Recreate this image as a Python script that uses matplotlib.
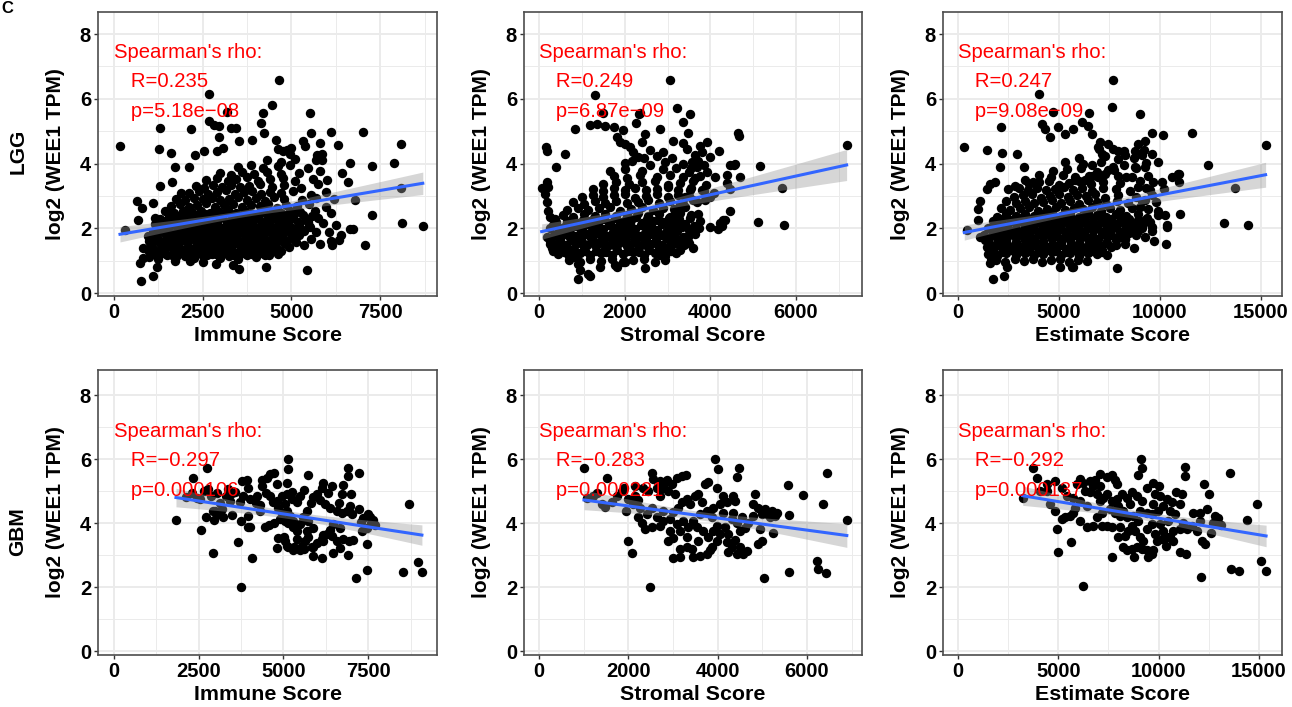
import numpy as np
import matplotlib
matplotlib.use("Agg")
import matplotlib.pyplot as plt

plt.rcParams['font.family'] = ['Liberation Sans', 'DejaVu Sans']

# ---------------- data ----------------
y_ticks = [0, 2, 4, 6, 8]
immune_ticks = [0, 2500, 5000, 7500]
stromal_ticks = [0, 2000, 4000, 6000]
estimate_ticks = [0, 5000, 10000, 15000]
score_names = ['Immune Score', 'Stromal Score', 'Estimate Score']
cancer_names = ['LGG', 'GBM']
lgg_r = ['0.235', '0.249', '0.247']
lgg_p = ['5.18e\u221208', '6.87e\u221209', '9.08e\u221209']
gbm_r = ['\u22120.297', '\u22120.283', '\u22120.292']
gbm_p = ['0.000106', '0.000221', '0.000137']

lgg_immune = [
 (170,4.53),(310,1.95),(640,2.83),(690,2.27),(780,2.63),(770,0.38),(735,0.93),(810,1.08),(830,1.39),(970,1.75),(990,1.62),
 (1110,0.52),(1210,0.80),(1260,4.45),(1300,5.10),(1600,4.32),(1715,3.90),(2120,3.90),(2170,5.07),(2290,4.27),(2690,6.15),
 (2690,5.31),(2810,5.20),(2950,5.17),(2970,4.82),(2550,4.38),(2900,4.38),(3060,4.48),(3190,5.59),(3300,5.10),(3440,5.10),
 (3510,4.69),(3880,4.72),(4200,5.57),(4450,5.80),(4640,6.59),(4150,5.26),(4240,4.95),(4570,4.74),(4620,4.45),(4750,4.40),
 (4880,4.42),(5000,4.48),(4960,4.30),(5520,5.57),(5550,4.93),(5330,4.69),(5380,4.55),(5800,4.62),(5850,4.30),(5720,4.25),
 (5680,4.10),(5850,4.10),(6110,4.97),(6300,4.58),(6650,4.01),(6410,3.72),(6600,3.44),(7015,4.97),(7260,3.93),(7260,2.40),
 (7070,1.49),(6790,2.86),(6650,1.98),(6740,1.98),(6400,1.80),(6350,1.65),(6150,1.50),(6100,1.60),(7900,4.01),(8090,4.60),
 (8090,3.23),(8110,2.16),(8700,2.08),(5450,0.70),(4290,0.80),(3510,0.73),(3350,0.88),(2500,0.95),(2150,1.00),(1715,0.99),
 (2870,0.91),(1300,3.30),(1630,3.42),(1110,2.78),(1160,2.32),(1900,3.10),
 (1000,1.12),(1250,1.05),(1500,1.18),(1750,1.10),(2000,1.16),(2250,1.07),(2500,1.14),(2750,1.20),(3000,1.09),(3250,1.15),
 (3500,1.04),(3750,1.17),(4000,1.11),(4250,1.19),
 (950,1.32),(1200,1.27),(1450,1.35),(1700,1.29),(1950,1.34),(2200,1.26),(2450,1.31),(2700,1.37),(2950,1.28),(3200,1.33),
 (3450,1.25),(3700,1.36),(3950,1.30),(4200,1.27),(4450,1.34),(4700,1.29),
 (1050,1.48),(1300,1.54),(1550,1.46),(1800,1.52),(2050,1.57),(2300,1.45),(2550,1.51),(2800,1.55),(3050,1.47),(3300,1.53),
 (3550,1.49),(3800,1.56),(4050,1.44),(4300,1.52),(4550,1.48),(4800,1.55),(5350,1.47),(5800,1.53),
 (1000,1.72),(1250,1.66),(1500,1.74),(1750,1.69),(2000,1.75),(2250,1.67),(2500,1.71),(2750,1.77),(3000,1.68),(3250,1.73),
 (3500,1.65),(3750,1.76),(4000,1.70),(4250,1.66),(4500,1.74),(4750,1.69),(5050,1.72),(5550,1.67),
 (1100,1.88),(1350,1.94),(1600,1.86),(1850,1.92),(2100,1.97),(2350,1.85),(2600,1.91),(2850,1.95),(3100,1.87),(3350,1.93),
 (3600,1.89),(3850,1.96),(4100,1.84),(4350,1.92),(4600,1.88),(4850,1.95),(5100,1.87),(5350,1.93),(5700,1.90),(6060,1.90),
 (1150,2.12),(1400,2.06),(1650,2.14),(1900,2.09),(2150,2.15),(2400,2.07),(2650,2.11),(2900,2.17),(3150,2.08),(3400,2.13),
 (3650,2.05),(3900,2.16),(4150,2.10),(4400,2.06),(4650,2.14),(4900,2.09),(5200,2.12),(5500,2.07),(5900,2.15),(6260,2.10),
 (1300,2.28),(1550,2.34),(1800,2.26),(2050,2.32),(2300,2.37),(2550,2.25),(2800,2.31),(3050,2.35),(3300,2.27),(3550,2.33),
 (3800,2.29),(4050,2.36),(4300,2.24),(4550,2.32),(4800,2.28),(5050,2.35),(5400,2.27),(5760,2.33),
 (1450,2.52),(1700,2.46),(1950,2.54),(2200,2.49),(2450,2.55),(2700,2.47),(2950,2.51),(3200,2.57),(3450,2.48),(3700,2.53),
 (3950,2.45),(4200,2.56),(4450,2.50),(4700,2.46),(4950,2.54),(5250,2.49),(5650,2.52),(6110,2.47),
 (1600,2.68),(1850,2.74),(2100,2.66),(2350,2.72),(2600,2.77),(2850,2.65),(3100,2.71),(3350,2.75),(3600,2.67),(3850,2.73),
 (4100,2.69),(4350,2.76),(4600,2.64),(4850,2.72),(5150,2.68),(5500,2.75),(5960,2.67),
 (1750,2.92),(2000,2.86),(2250,2.94),(2500,2.89),(2750,2.95),(3000,2.87),(3250,2.91),(3500,2.97),(3750,2.88),(4000,2.93),
 (4250,2.85),(4500,2.96),(4800,2.90),(5300,2.86),(5700,2.94),(6210,2.89),
 (2100,3.08),(2400,3.14),(2650,3.06),(2900,3.12),(3150,3.17),(3400,3.05),(3650,3.11),(3900,3.15),(4150,3.07),(4400,3.13),
 (4700,3.09),(5050,3.16),(5560,3.04),(5960,3.12),
 (2300,3.32),(2550,3.26),(2800,3.34),(3050,3.29),(3300,3.35),(3550,3.27),(3800,3.31),(4100,3.37),(4450,3.28),(4800,3.33),
 (5260,3.25),(5760,3.36),
 (2600,3.48),(2900,3.54),(3200,3.46),(3450,3.52),(3750,3.57),(4050,3.45),(4400,3.51),(4750,3.55),(5100,3.47),(5610,3.53),
 (6010,3.49),
 (3000,3.72),(3300,3.66),(3600,3.74),(3950,3.69),(4300,3.75),(4700,3.67),(5210,3.71),(5810,3.77),
 (3500,3.88),(3860,3.94),(4210,3.86),(4610,3.92),(4960,3.97),(5460,3.85),
 (4310,4.12),(4710,4.06),(5110,4.14),
 (1125,1.21),(1375,1.25),(1625,1.19),(1875,1.23),(2125,1.20),(2375,1.24),(2625,1.18),(2875,1.22),(3125,1.25),(3375,1.19),
 (3625,1.23),(3875,1.21),(4125,1.24),(4375,1.18),(4625,1.22),
 (1075,1.42),(1325,1.38),(1575,1.44),(1825,1.40),(2075,1.43),(2325,1.39),(2575,1.45),(2825,1.41),(3075,1.38),(3325,1.44),
 (3575,1.42),(3825,1.39),(4075,1.45),(4325,1.40),(4575,1.43),(4925,1.41),
 (1125,1.62),(1375,1.58),(1625,1.64),(1875,1.60),(2125,1.63),(2375,1.59),(2625,1.65),(2875,1.61),(3125,1.58),(3375,1.64),
 (3625,1.62),(3875,1.59),(4125,1.65),(4375,1.60),(4625,1.63),(4875,1.61),(5125,1.58),
 (1225,1.82),(1475,1.78),(1725,1.84),(1975,1.80),(2225,1.83),(2475,1.79),(2725,1.85),(2975,1.81),(3225,1.78),(3475,1.84),
 (3725,1.82),(3975,1.79),(4225,1.85),(4475,1.80),(4725,1.83),(4975,1.81),(5225,1.78),
 (1275,2.02),(1525,1.98),(1775,2.04),(2025,2.00),(2275,2.03),(2525,1.99),(2775,2.05),(3025,2.01),(3275,1.98),(3525,2.04),
 (3775,2.02),(4025,1.99),(4275,2.05),(4525,2.00),(4775,2.03),(5025,2.01),(5275,1.98),(5525,2.04),
 (1425,2.22),(1675,2.18),(1925,2.24),(2175,2.20),(2425,2.23),(2675,2.19),(2925,2.25),(3175,2.21),(3425,2.18),(3675,2.24),
 (3925,2.22),(4175,2.19),(4425,2.25),(4675,2.20),(4925,2.23),(5175,2.21),(5475,2.18),
 (1575,2.42),(1825,2.38),(2075,2.44),(2325,2.40),(2575,2.43),(2825,2.39),(3075,2.45),(3325,2.41),(3575,2.38),(3825,2.44),
 (4075,2.42),(4325,2.39),(4575,2.45),(4825,2.40),(5075,2.43),(5325,2.41),(5575,2.38),
]

lgg_stromal = [
 (155,4.50),(180,4.40),(615,4.29),(405,3.90),(840,5.08),(1190,5.20),(1346,5.22),(1501,5.55),(1540,5.17),(1758,5.12),
 (1968,5.04),(2357,5.55),(2264,5.24),(2474,4.91),(2824,5.07),(3213,5.73),(3058,6.58),(1307,6.12),(2334,5.53),(3524,5.53),
 (3361,5.27),(3477,4.93),(3921,4.66),(4645,4.93),(4670,4.85),(4551,3.97),(5158,3.92),(5672,3.24),(7181,4.58),(5111,2.19),
 (5718,2.09),(4458,2.53),(4294,2.25),(4220,2.15),(3991,2.04),(3734,2.01),(4108,3.60),(4388,3.39),(4085,3.08),(3594,1.38),
 (2474,0.77),(1820,0.81),(1424,0.81),(1190,0.52),(910,0.43),
 (1813,4.81),(1890,4.66),(2007,4.61),(2124,4.50),(2202,4.35),(2163,4.09),(2318,4.20),(2396,4.66),(3135,4.69),(3369,4.63),
 (3446,4.45),(3641,4.25),(3563,4.04),(3680,3.89),(3719,4.09),(3913,3.73),(4380,3.66),(4458,3.94),(4574,3.99),(4263,2.06),
 (3719,2.45),(3680,2.81),(3018,1.37),(2824,1.17),(2007,0.96),(1774,0.86),(1151,0.60),(4341,2.25),(4185,1.99),(3991,2.96),
 (3874,2.86),(3796,3.17),(3524,3.17),(3407,2.96),(3291,2.76),(3174,2.55),(3213,2.25),(3330,2.04),(3407,1.73),(3252,1.53),
 (3096,1.63),(2940,1.78),
 (3800,4.35),(3650,3.55),(3900,3.35),(4000,4.20),(4200,4.40),(3750,4.55),(4450,3.20),(4700,3.60),(3550,3.85),(3850,3.95),
 (140,3.07),(179,3.43),(218,3.27),(62,3.25),(179,2.81),(218,2.55),(257,2.35),(373,2.30),(334,2.09),(451,2.04),(179,1.73),
 (257,1.53),(412,1.43),(490,1.63),(607,1.84),(723,1.73),(591,1.37),(684,1.22),(840,1.12),(918,0.91),(957,0.71),
 (700,1.02),(950,0.96),(1200,1.05),(1450,0.98),(1700,1.04),(1950,0.95),(2200,1.01),(2450,1.06),(2700,0.97),(2950,1.03),
 (450,1.22),(700,1.16),(950,1.24),(1200,1.19),(1450,1.25),(1700,1.17),(1950,1.21),(2200,1.26),(2450,1.18),(2700,1.23),
 (2950,1.15),(3200,1.24),
 (300,1.38),(550,1.44),(800,1.36),(1050,1.42),(1300,1.47),(1550,1.35),(1800,1.41),(2050,1.45),(2300,1.37),(2550,1.43),
 (2800,1.39),(3050,1.46),(3300,1.34),
 (250,1.62),(500,1.56),(750,1.64),(1000,1.59),(1250,1.65),(1500,1.57),(1750,1.61),(2000,1.67),(2250,1.58),(2500,1.63),
 (2750,1.55),(3000,1.66),(3250,1.60),(3500,1.56),
 (350,1.78),(600,1.84),(850,1.76),(1100,1.82),(1350,1.87),(1600,1.75),(1850,1.81),(2100,1.85),(2350,1.77),(2600,1.83),
 (2850,1.79),(3100,1.86),(3350,1.74),(3650,1.82),
 (250,2.02),(500,1.96),(750,2.04),(1000,1.99),(1250,2.05),(1500,1.97),(1750,2.01),(2000,2.07),(2250,1.98),(2500,2.03),
 (2750,1.95),(3000,2.06),(3250,2.00),(3500,1.96),
 (400,2.18),(650,2.24),(900,2.16),(1150,2.22),(1400,2.27),(1650,2.15),(1900,2.21),(2150,2.25),(2400,2.17),(2650,2.23),
 (2900,2.19),(3150,2.26),(3400,2.14),(3750,2.22),
 (550,2.42),(800,2.36),(1050,2.44),(1300,2.39),(1550,2.45),(1800,2.37),(2050,2.41),(2300,2.47),(2550,2.38),(2800,2.43),
 (3050,2.35),(3300,2.46),(3550,2.40),
 (650,2.58),(900,2.64),(1150,2.56),(1400,2.62),(1650,2.67),(1900,2.55),(2150,2.61),(2400,2.65),(2650,2.57),(2900,2.63),
 (3150,2.59),(3400,2.66),
 (800,2.82),(1050,2.76),(1300,2.84),(1550,2.79),(1800,2.85),(2050,2.77),(2300,2.81),(2550,2.87),(2800,2.78),(3050,2.83),
 (3350,2.75),(3600,2.86),
 (1000,2.98),(1250,3.04),(1500,2.96),(1750,3.02),(2000,3.07),(2250,2.95),(2500,3.01),(2750,3.05),(3000,2.97),(3250,3.03),
 (3500,2.99),
 (1250,3.22),(1500,3.16),(1750,3.24),(2000,3.19),(2250,3.25),(2500,3.17),(2750,3.21),(3000,3.27),(3250,3.18),(3550,3.23),
 (3850,3.15),
 (1500,3.38),(1800,3.44),(2100,3.36),(2400,3.42),(2700,3.47),(3000,3.35),(3300,3.41),(3600,3.45),
 (1750,3.62),(2050,3.56),(2350,3.64),(2750,3.59),(3050,3.65),(3350,3.57),(3750,3.61),
 (1650,3.78),(2000,3.84),(2400,3.76),(2900,3.82),(3200,3.87),(3500,3.75),
 (2000,4.02),(2600,3.96),(2950,4.04),(3350,3.99),
 (2450,4.18),(2750,4.24),(3100,4.16),
 (2600,4.42),(2900,4.36),
 (325,1.30),(575,1.27),(825,1.33),(1075,1.29),(1325,1.31),(1575,1.28),(1825,1.34),(2075,1.30),(2325,1.27),(2575,1.33),
 (2825,1.29),(3075,1.31),
 (375,1.50),(625,1.47),(875,1.53),(1125,1.49),(1375,1.51),(1625,1.48),(1875,1.54),(2125,1.50),(2375,1.47),(2625,1.53),
 (2875,1.49),(3125,1.51),(3375,1.48),
 (225,1.70),(475,1.67),(725,1.73),(975,1.69),(1225,1.71),(1475,1.68),(1725,1.74),(1975,1.70),(2225,1.67),(2475,1.73),
 (2725,1.69),(2975,1.71),(3225,1.68),(3475,1.74),
 (475,1.90),(725,1.87),(975,1.93),(1225,1.89),(1475,1.91),(1725,1.88),(1975,1.94),(2225,1.90),(2475,1.87),(2725,1.93),
 (2975,1.89),(3225,1.91),(3525,1.88),
 (625,2.10),(875,2.07),(1125,2.13),(1375,2.09),(1625,2.11),(1875,2.08),(2125,2.14),(2375,2.10),(2625,2.07),(2875,2.13),
 (3125,2.09),(3375,2.11),(3625,2.08),
 (775,2.30),(1025,2.27),(1275,2.33),(1525,2.29),(1775,2.31),(2025,2.28),(2275,2.34),(2525,2.30),(2775,2.27),(3025,2.33),
 (3275,2.29),(3525,2.31),
]

lgg_estimate = [
 (313,4.50),(1419,4.42),(2194,4.32),(2904,4.28),(2128,5.12),(3283,3.89),(2078,3.89),(4010,6.15),(4688,5.58),(4141,5.22),
 (4306,5.07),(4966,5.12),(4554,4.81),(5296,4.91),(5708,5.07),(6121,5.27),(6451,5.17),(6616,4.91),(6500,5.55),(7606,5.76),
 (7673,6.57),(9009,5.53),(9586,4.93),(10164,4.89),(11599,4.93),(15229,4.58),(12391,3.97),(13711,3.25),(13183,2.16),
 (14371,2.09),(10989,2.43),(10939,3.43),(10939,3.68),(10329,2.04),(10296,1.51),(9256,1.73),(9600,1.93),(8266,1.53),
 (8100,1.73),(7854,0.76),(5708,0.81),(5049,0.81),(5627,0.81),(450,1.95),(1716,0.42),(2277,0.52),(2409,0.81),(1584,0.92),
 (1650,1.08),(1420,1.43),(1337,1.63),(1089,1.73),(1007,2.25),(1007,2.60),(1089,2.85),(1420,3.22),(1584,3.38),(1832,3.43),
 (7029,4.66),(7441,4.61),(7689,4.45),(7936,4.40),(7111,4.30),(6946,4.50),(8266,4.25),(8926,4.61),(9256,4.71),(8761,4.40),
 (9091,4.25),(9586,4.30),(9916,4.04),(9256,3.89),(8761,3.89),(7936,4.14),(7689,3.89),(7441,3.79),(6616,3.94),(6286,3.48),
 (5791,3.48),(6616,3.63),(6946,3.58),(7936,3.63),(8596,3.58),(8926,3.27),(9504,3.17),(9669,3.43),(10081,3.43),(10576,3.58),
 (10906,3.68),(9916,2.55),(10246,2.40),(10329,2.09),(9256,2.25),(9586,2.04),(8596,1.94),(8266,1.68),(9009,2.66),(9256,2.86),
 (3316,3.48),(3729,3.43),(2821,3.32),(2491,3.22),
 (1900,1.02),(2350,0.96),(2800,1.05),(3250,0.98),(3700,1.04),(4150,0.95),(4600,1.01),(5050,1.06),(5500,0.97),(5950,1.03),
 (6400,0.99),
 (1500,1.22),(1950,1.16),(2400,1.24),(2850,1.19),(3300,1.25),(3750,1.17),(4200,1.21),(4650,1.26),(5100,1.18),(5550,1.23),
 (6000,1.15),(6450,1.24),(6900,1.20),(7400,1.17),
 (1750,1.38),(2200,1.44),(2650,1.36),(3100,1.42),(3550,1.47),(4000,1.35),(4450,1.41),(4900,1.45),(5350,1.37),(5800,1.43),
 (6250,1.39),(6700,1.46),(7150,1.34),(7600,1.42),(8700,1.38),
 (1500,1.62),(1950,1.56),(2400,1.64),(2850,1.59),(3300,1.65),(3750,1.57),(4200,1.61),(4650,1.67),(5100,1.58),(5550,1.63),
 (6000,1.55),(6450,1.66),(6900,1.60),(7350,1.56),(7800,1.64),(9700,1.60),
 (1300,1.78),(1750,1.84),(2200,1.76),(2650,1.82),(3100,1.87),(3550,1.75),(4000,1.81),(4450,1.85),(4900,1.77),(5350,1.83),
 (5800,1.79),(6250,1.86),(6700,1.74),(7150,1.82),(7600,1.78),(8100,1.84),(8800,1.80),
 (1500,2.02),(1950,1.96),(2400,2.04),(2850,1.99),(3300,2.05),(3750,1.97),(4200,2.01),(4650,2.07),(5100,1.98),(5550,2.03),
 (6000,1.95),(6450,2.06),(6900,2.00),(7350,1.96),(7800,2.04),(8300,1.99),(9100,2.02),
 (1750,2.24),(2200,2.16),(2650,2.22),(3100,2.27),(3550,2.15),(4000,2.21),(4450,2.25),(4900,2.17),(5350,2.23),
 (5800,2.19),(6250,2.26),(6700,2.14),(7150,2.22),(7600,2.18),(8050,2.24),(8600,2.16),(9500,2.21),
 (1950,2.36),(2400,2.44),(2850,2.39),(3300,2.45),(3750,2.37),(4200,2.41),(4650,2.47),(5100,2.38),(5550,2.43),
 (6000,2.35),(6450,2.46),(6900,2.40),(7350,2.36),(7800,2.44),(8300,2.39),(8900,2.45),(9900,2.40),
 (2150,2.64),(2600,2.56),(3050,2.62),(3500,2.67),(3950,2.55),(4400,2.61),(4850,2.65),(5300,2.57),(5750,2.63),
 (6200,2.59),(6650,2.66),(7100,2.54),(7550,2.62),(8000,2.58),(8600,2.64),(9400,2.60),
 (2400,2.84),(2850,2.79),(3300,2.85),(3750,2.77),(4200,2.81),(4650,2.87),(5100,2.78),(5550,2.83),
 (6000,2.75),(6450,2.86),(6900,2.80),(7350,2.76),(7850,2.84),(8400,2.79),(9100,2.85),(9800,2.80),
 (2750,2.96),(3200,3.02),(3650,3.07),(4100,2.95),(4550,3.01),(5000,3.05),(5450,2.97),(5900,3.03),
 (6350,2.99),(6800,3.06),(7300,2.94),(7900,3.02),(8800,2.98),(9600,3.04),
 (3000,3.24),(3450,3.19),(3900,3.25),(4350,3.17),(4800,3.21),(5250,3.27),(5700,3.18),(6150,3.23),
 (6650,3.15),(7200,3.24),(7800,3.20),(8500,3.16),(9300,3.24),(10200,3.20),
 (3500,3.36),(4000,3.42),(4500,3.47),(5000,3.35),(5500,3.41),(6000,3.45),(6600,3.37),(7200,3.43),
 (8000,3.39),(9000,3.46),
 (4000,3.64),(4600,3.59),(5200,3.65),(5800,3.57),(6500,3.61),(7300,3.67),(8300,3.58),(9400,3.63),
 (4700,3.76),(5400,3.82),(6100,3.87),(6900,3.75),(7700,3.81),(8800,3.85),
 (5300,4.04),(6200,3.99),(7100,4.05),(8200,3.97),(9300,4.03),
 (6000,4.16),(7300,4.22),(8700,4.18),
 (7000,4.44),(8200,4.38),(9200,4.42),
 (1725,1.30),(2175,1.27),(2625,1.33),(3075,1.29),(3525,1.31),(3975,1.28),(4425,1.34),(4875,1.30),(5325,1.27),(5775,1.33),
 (6225,1.29),(6675,1.31),(7125,1.28),
 (1525,1.50),(1975,1.47),(2425,1.53),(2875,1.49),(3325,1.51),(3775,1.48),(4225,1.54),(4675,1.50),(5125,1.47),(5575,1.53),
 (6025,1.49),(6475,1.51),(6925,1.48),(7375,1.54),(7825,1.50),
 (1525,1.70),(1975,1.67),(2425,1.73),(2875,1.69),(3325,1.71),(3775,1.68),(4225,1.74),(4675,1.70),(5125,1.67),(5575,1.73),
 (6025,1.69),(6475,1.71),(6925,1.68),(7375,1.74),(7825,1.70),(8275,1.67),
 (1725,1.90),(2175,1.87),(2625,1.93),(3075,1.89),(3525,1.91),(3975,1.88),(4425,1.94),(4875,1.90),(5325,1.87),(5775,1.93),
 (6225,1.89),(6675,1.91),(7125,1.88),(7575,1.94),(8025,1.90),(8475,1.87),(8925,1.93),
 (1975,2.10),(2425,2.07),(2875,2.13),(3325,2.09),(3775,2.11),(4225,2.08),(4675,2.14),(5125,2.10),(5575,2.07),(6025,2.13),
 (6475,2.09),(6925,2.11),(7375,2.08),(7825,2.14),(8275,2.10),(8725,2.07),(9175,2.13),
 (2175,2.30),(2625,2.27),(3075,2.33),(3525,2.29),(3975,2.31),(4425,2.28),(4875,2.34),(5325,2.30),(5775,2.27),(6225,2.33),
 (6675,2.29),(7125,2.31),(7575,2.28),(8025,2.34),(8475,2.30),(8925,2.27),(9375,2.33),
]

gbm_immune = [
 (1830,4.11),(2125,4.82),(2340,5.40),(2440,4.80),(2735,5.73),(2785,5.06),(2715,4.20),(2560,3.79),(2930,3.06),(2950,4.10),
 (2980,4.39),(3180,4.44),(3230,4.20),(3130,4.64),(3425,4.70),(3475,4.26),(3375,5.06),(3750,2.01),(3670,3.43),(3740,4.06),
 (3965,3.89),(4065,2.92),(3570,4.96),(3770,5.32),(3935,5.34),(3965,5.11),(3820,4.85),(3720,4.65),(4015,4.75),(4210,4.85),
 (4310,4.57),(4360,5.34),(4605,5.54),(4725,5.58),(4800,5.21),(5145,5.99),(5145,5.68),(5095,5.27),(5735,5.52),(4460,3.89),
 (4585,3.95),(4725,4.00),(4850,3.54),(5020,3.56),(4820,3.23),(5145,3.25),(5275,3.15),(5490,3.15),(5610,3.19),(5835,3.27),
 (5885,2.99),(6150,2.92),(6475,3.06),(6900,3.02),(7145,2.30),(7460,2.55),(7460,3.35),(7240,4.44),(7230,5.58),(6915,5.73),
 (6915,5.47),(6770,5.19),(6985,4.92),(6720,4.90),(6425,5.16),(6180,5.27),(6130,5.11),(5985,4.90),(5885,4.82),(6080,4.72),
 (6230,4.61),(6375,4.49),(6575,4.39),(6720,4.33),(6870,4.39),(7015,4.28),(7540,4.20),(7575,4.02),(7460,3.85),(7310,3.77),
 (7065,3.48),(6920,3.46),(6750,3.51),(6475,3.97),(6670,3.85),(6375,3.79),(6180,3.64),(6180,3.46),(8690,4.59),(8540,2.49),
 (8955,2.78),(9085,2.47),(5690,4.39),(5590,4.18),(5735,4.06),(5885,3.85),(5490,3.97),(5390,3.77),(5295,4.08),(5195,4.23),
 (5095,4.39),(5050,4.59),(5245,4.75),(5390,4.67),(5490,4.85),(5245,4.96),(5095,4.90),(4950,4.85),(4800,4.70),(4685,4.65),
 (4605,4.85),(4850,4.49),(4950,4.33),(4900,4.13),(5050,4.08),(5145,4.00),(5275,3.89),(5690,3.75),(5735,3.58),(5640,3.46),
 (5540,3.30),(5315,3.27),(5095,3.30),(5050,3.46),(5390,3.51),(5885,3.25),(6000,3.37),(6130,3.51),(6280,3.66),(6425,3.61),
 (6575,3.46),(6670,3.23),(4505,5.40),(4360,5.16),(2930,4.37),(3080,4.30),(4015,3.87),(3965,4.23),(4310,4.39),
 (2300,4.95),(2550,4.75),(2650,5.00),(2850,4.85),(3050,4.95),(3300,4.85),(3470,4.95),
 (4500,4.95),(5600,5.05),(6300,4.95),(4200,4.62),(5800,4.62),
 (7650,4.10),(7500,4.30),(7350,4.15),(6950,4.55),(6650,4.62),(7300,4.05),(7700,3.95),
]

gbm_stromal = [
 (1008,5.71),(1082,4.78),(1478,4.51),(1530,5.40),(1949,4.37),(2001,3.44),(2076,3.06),(2487,2.01),(1740,4.85),(1852,5.01),
 (2001,4.75),(2151,4.85),(2225,4.72),(2524,5.58),(2561,5.37),(2711,5.32),(2860,5.34),(2972,5.23),(3084,5.42),(3196,5.47),
 (3293,5.52),(2786,5.11),(2898,5.01),(3047,4.90),(2711,4.85),(2524,4.49),(2412,4.28),(2225,4.18),(2300,4.02),(2375,3.82),
 (2524,3.87),(2711,3.92),(2786,4.08),(2935,4.13),(3010,4.34),(3122,4.49),(3196,4.65),(3308,4.75),(3383,4.59),(3495,4.85),
 (3570,4.90),(3645,4.65),(3719,5.21),(3794,5.30),(3943,5.99),(4018,5.68),(4489,5.73),(4444,5.44),(3010,3.54),(3159,3.77),
 (3159,3.20),(3010,2.92),(3308,3.27),(3420,3.20),(3458,2.94),(3607,2.99),(3831,3.17),(3570,3.46),(3794,3.56),(3906,3.77),
 (3981,3.92),(4168,3.89),(4242,3.66),(4392,3.48),(4242,3.09),(4504,3.25),(4578,3.04),(4653,3.13),(4504,3.77),(4616,3.85),
 (4690,4.02),(4802,4.23),(4914,4.49),(4802,4.59),(4989,4.28),(5101,4.30),(5213,4.39),(5288,4.23),(5236,3.68),(4989,3.46),
 (4914,3.35),(3981,5.09),(4130,4.85),(4205,4.65),(4354,4.85),(4392,4.70),(4840,4.90),(4055,4.59),(3906,4.49),(3757,4.39),
 (3607,4.28),(3458,4.08),(3346,3.87),(3234,4.08),(3533,3.87),(3682,3.77),(3869,4.18),(4130,4.33),(4354,4.33),(4541,4.18),
 (4429,4.02),(4317,4.13),(5041,2.30),(5609,2.49),(5609,4.26),(5587,5.18),(5908,4.88),(6356,4.59),(6446,5.58),(6237,2.82),
 (6259,2.58),(6431,2.44),(6894,4.10),(2263,4.49),(2113,4.59),(2786,4.39),(2636,4.18),(2935,3.77),(3084,3.97),(3308,3.56),
 (2898,3.46),(3159,2.94),(3757,3.04),(3869,3.25),(3981,3.46),(4055,3.66),(4205,3.40),(4317,3.25),(4429,3.04),(5064,4.44),
 (5176,4.18),(5325,4.33),(4952,3.82),
 (1400,4.60),(1630,4.65),(2340,5.11),(2450,5.01),(2640,5.11),(2790,5.23),(1300,4.95),(1900,5.10),(1200,4.85),(2150,5.15),
]

gbm_estimate = [
 (3224,4.80),(3756,5.73),(3922,5.40),(4421,5.01),(4587,4.59),(4836,4.39),(4919,3.82),(5003,3.09),(5169,4.13),(5335,4.18),
 (5584,4.23),(5717,4.33),(5617,3.43),(6083,4.07),(6448,3.89),(6216,2.03),(6249,5.27),(6581,5.32),(6831,5.34),(7080,5.54),
 (7412,5.44),(7662,5.52),(7828,5.34),(7944,5.21),(6581,4.96),(6748,5.16),(6914,4.90),(7080,4.70),(7246,4.80),(7412,4.90),
 (7662,4.70),(7911,4.75),(8160,4.90),(8410,4.80),(8659,4.96),(8908,4.85),(9157,4.70),(9407,5.11),(9739,5.27),(10038,5.16),
 (9822,4.92),(10072,4.85),(10404,4.75),(10653,4.65),(10869,4.96),(11152,4.90),(11069,4.59),(9124,5.99),(9157,5.73),
 (8991,5.52),(11318,5.75),(11318,5.47),(12265,5.21),(12531,4.90),(12398,4.44),(12066,4.33),(11734,4.33),(12814,4.23),
 (12731,4.02),(12598,3.71),(12149,3.46),(12315,3.35),(13562,5.58),(14393,4.11),(14925,4.61),(13612,2.58),(14027,2.50),
 (15108,2.82),(15357,2.50),(12099,2.32),(11069,3.09),(11368,3.04),(10371,3.30),(7662,2.94),(8792,2.94),(9490,2.94),
 (9656,3.04),(7994,3.56),(8243,3.25),(8410,3.15),(8659,3.20),(8908,3.25),(9157,3.20),(9407,3.15),(9739,3.15),(9241,3.46),
 (9075,3.56),(8493,3.77),(8659,3.92),(8991,4.08),(9407,3.82),(9656,3.97),(10072,3.97),(10238,3.77),(10404,3.56),(10155,3.51),
 (10570,3.56),(10736,3.77),(11069,3.82),(11202,4.02),(10819,4.28),(10570,4.39),(10238,4.54),(9988,4.39),(9656,4.28),
 (9407,4.33),(9075,4.39),(8742,4.23),(8410,4.18),(8077,4.23),(7828,4.33),(7578,4.44),(7163,4.33),(6914,4.18),(6748,3.92),
 (7163,3.92),(7412,3.92),(7662,3.87),(7080,5.16),(6083,4.70),(5834,4.49),(6448,4.54),(7994,4.54),(8243,4.39),(8576,4.59),
 (8077,3.87),(8326,3.61),(8825,3.77),(9822,3.66),(9905,3.46),(10736,3.46),(10487,4.07),(9739,4.59),(11401,3.82),(11650,3.92),
 (12066,4.07),(11900,3.77),
 (4088,5.01),(4421,5.21),(4836,5.32),(5169,5.11),(5418,4.85),(5917,5.21),(6332,5.01),(5750,4.80),(6083,5.37),
 (12950,4.15),(13100,3.95),
]

# ---------------- layout ----------------
W, H = 1292, 707
fig = plt.figure(figsize=(W / 100, H / 100), dpi=100)

col_px = [(98, 437), (524, 862), (943, 1282)]
row_px = [(12, 296), (370, 655)]
xlims = [[(-450, 9100), (-350, 7540), (-740, 16040)],
         [(-470, 9530), (-336, 7234), (-750, 16150)]]
ylims = [(-0.09, 8.68), (-0.11, 8.78)]
text_y = [(7.42, 6.53, 5.62), (6.85, 5.95, 5.03)]

data = [[lgg_immune, lgg_stromal, lgg_estimate],
        [gbm_immune, gbm_stromal, gbm_estimate]]
ticks = [immune_ticks, stromal_ticks, estimate_ticks]
r_txt = [lgg_r, gbm_r]
p_txt = [lgg_p, gbm_p]

grid_col = '#EBEBEB'
frame_col = '#4D4D4D'

for i in range(2):
    for j in range(3):
        l, r = col_px[j]
        t, b = row_px[i]
        ax = fig.add_axes([l / W, (H - b) / H, (r - l) / W, (b - t) / H])
        pts = np.array(data[i][j], dtype=float)
        x, y = pts[:, 0], pts[:, 1]
        ax.set_xlim(*xlims[i][j])
        ax.set_ylim(*ylims[i])
        tk = ticks[j]
        step = tk[1] - tk[0]
        ax.set_xticks(tk, [str(v) for v in tk], fontweight='bold', fontsize=14.5)
        ax.set_yticks(y_ticks, [str(v) for v in y_ticks], fontweight='bold', fontsize=14.5)
        xmin = [v + step / 2 for v in tk + [tk[-1] + step] if v + step / 2 < xlims[i][j][1]]
        ax.set_xticks(xmin, minor=True)
        ax.set_yticks([1, 3, 5, 7], minor=True)
        ax.set_axisbelow(True)
        ax.grid(which='major', color=grid_col, lw=1.4)
        ax.grid(which='minor', color=grid_col, lw=0.7)
        ax.tick_params(which='major', length=3, width=1.0, color='#333333', pad=2, labelcolor='black')
        ax.tick_params(which='minor', length=0)
        for s in ax.spines.values():
            s.set_color(frame_col)
            s.set_linewidth(1.2)

        ax.scatter(x, y, s=46, color='black', linewidths=0, zorder=2)

        # linear fit with 95% confidence band
        bcoef, acoef = np.polyfit(x, y, 1)
        xs = np.linspace(x.min(), x.max(), 100)
        yh = acoef + bcoef * xs
        n = len(x)
        resid = y - (acoef + bcoef * x)
        s_err = np.sqrt(np.sum(resid ** 2) / (n - 2))
        se = s_err * np.sqrt(1 / n + (xs - x.mean()) ** 2 / np.sum((x - x.mean()) ** 2))
        ax.fill_between(xs, yh - 1.97 * se, yh + 1.97 * se, color='#999999', alpha=0.4, lw=0, zorder=3)
        ax.plot(xs, yh, color='#3366FF', lw=2.2, zorder=4)

        ty = text_y[i]
        ax.text(0, ty[0], "Spearman's rho:", color='red', fontsize=14.6, va='center', ha='left', zorder=5)
        ax.text(0, ty[1], "   R=" + r_txt[i][j], color='red', fontsize=14.6, va='center', ha='left', zorder=5)
        ax.text(0, ty[2], "   p=" + p_txt[i][j], color='red', fontsize=14.6, va='center', ha='left', zorder=5)

        ax.set_xlabel(score_names[j], fontsize=15.4, fontweight='bold', labelpad=3)
        ax.set_ylabel('log2 (WEE1 TPM)', fontsize=15, fontweight='bold', labelpad=11)

fig.text(18 / W, 1 - 151 / H, cancer_names[0], rotation=90, fontsize=15, fontweight='bold',
         ha='center', va='center')
fig.text(18 / W, 1 - 532 / H, cancer_names[1], rotation=90, fontsize=15, fontweight='bold',
         ha='center', va='center')
fig.text(0.001, 1 - 1 / H, 'C', fontsize=12, fontweight='bold', ha='left', va='top')

fig.savefig('out.png', dpi=100)
